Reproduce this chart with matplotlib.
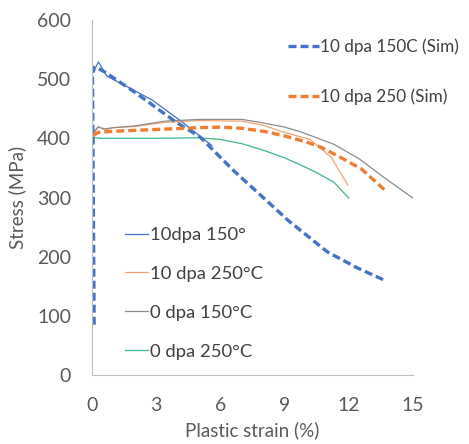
import numpy as np
import matplotlib
matplotlib.use('Agg')
import matplotlib.pyplot as plt

plt.rcParams['font.family'] = ['Lato', 'DejaVu Sans']

# 10 dpa 150C simulation (dashed blue)
sim150_x = [0.1, 0.02, 0.3, 0.6, 2.0, 3.9, 5.06, 6.6, 8.3, 9.14, 11.0, 12.4, 13.74]
sim150_y = [85, 520, 518, 512, 478, 428, 402, 346, 290, 262, 208, 181, 159]

# 10 dpa 250 simulation (dashed orange)
sim250_x = [0.05, 0.3, 1.0, 3.0, 5.0, 6.0, 7.0, 8.0, 9.0, 10.0, 10.7, 11.5, 12.6, 13.7]
sim250_y = [405, 410, 412, 415, 418, 419, 417, 412, 404, 394, 385, 370, 348, 312]

# experiments
exp150_10_x = [0.1, 0.2, 0.3, 0.45, 0.7, 1.5, 2.8, 4.2, 5.0, 5.6]
exp150_10_y = [512, 522, 529, 520, 505, 490, 465, 428, 405, 388]

exp250_10_x = [0.05, 0.3, 0.6, 1.0, 2.0, 3.4, 5.0, 7.0, 8.0, 9.0, 10.2, 11.2, 11.95]
exp250_10_y = [405, 420, 414, 418, 420, 427, 430, 429, 422, 410, 398, 367, 321]

exp150_0_x = [0.05, 0.28, 0.6, 1.0, 2.0, 3.4, 5.0, 7.0, 7.7, 9.0, 9.75, 11.3, 12.5, 13.6, 15.0]
exp150_0_y = [410, 419, 416, 418, 421, 429, 432, 432, 428, 419, 411, 390, 365, 335, 299]

exp250_0_x = [0.1, 0.1, 0.3, 1.0, 3.0, 5.0, 6.0, 7.0, 8.0, 9.0, 9.75, 10.5, 11.3, 12.0]
exp250_0_y = [392, 402, 400, 400, 400, 401, 398, 391, 380, 367, 355, 342, 326, 299]

blue = '#4472C4'
orange = '#ED7D31'
grey = '#8C8C8C'
green = '#3DB887'
txt = '#595959'

fig = plt.figure(figsize=(4.69, 4.44), dpi=100)
ax = fig.add_axes([92 / 469, 1 - 375 / 444, 321 / 469, 355 / 444])

l1, = ax.plot(exp150_10_x, exp150_10_y, color=blue, lw=0.9, label='10dpa 150°')
l2, = ax.plot(exp250_10_x, exp250_10_y, color=orange, lw=0.9, alpha=0.7, label='10 dpa 250°C')
l3, = ax.plot(exp150_0_x, exp150_0_y, color=grey, lw=0.9, label='0 dpa 150°C')
l4, = ax.plot(exp250_0_x, exp250_0_y, color=green, lw=0.9, label='0 dpa 250°C')
s1, = ax.plot(sim150_x, sim150_y, color=blue, lw=2.4, dashes=(2.4, 1.2), label='10 dpa 150C (Sim)')
s2, = ax.plot(sim250_x, sim250_y, color=orange, lw=2.4, dashes=(2.4, 1.2), label='10 dpa 250 (Sim)')

ax.set_xlim(0, 15)
ax.set_ylim(0, 600)
ax.set_xticks([0, 3, 6, 9, 12, 15])
ax.set_yticks([0, 100, 200, 300, 400, 500, 600])
for sp in ['top', 'right']:
    ax.spines[sp].set_visible(False)
ax.spines['left'].set_color('#BFBFBF')
ax.spines['bottom'].set_color('#BFBFBF')
ax.tick_params(axis='y', length=0, labelsize=14, colors=txt, pad=15)
ax.tick_params(axis='x', length=0, labelsize=14, colors=txt, pad=16)
ax.set_xlabel('Plastic strain (%)', fontsize=13.5, color=txt, labelpad=5)
ax.set_ylabel('Stress (MPa)', fontsize=13.5, color=txt, labelpad=8)

leg1 = fig.legend(handles=[s1, s2], loc='upper left', bbox_to_anchor=(288 / 469, 1 - 38 / 444),
                  frameon=False, fontsize=12.3, handlelength=1.8, handletextpad=0.1,
                  labelspacing=2.0, labelcolor='#404040', borderpad=0, borderaxespad=0)
leg2 = fig.legend(handles=[l1, l2, l3, l4], loc='upper left', bbox_to_anchor=(125 / 469, 1 - 227 / 444),
                  frameon=False, fontsize=13.3, handlelength=1.25, handletextpad=0.1,
                  labelspacing=1.24, labelcolor='#404040', borderpad=0, borderaxespad=0)

fig.savefig('out.png', dpi=100)
